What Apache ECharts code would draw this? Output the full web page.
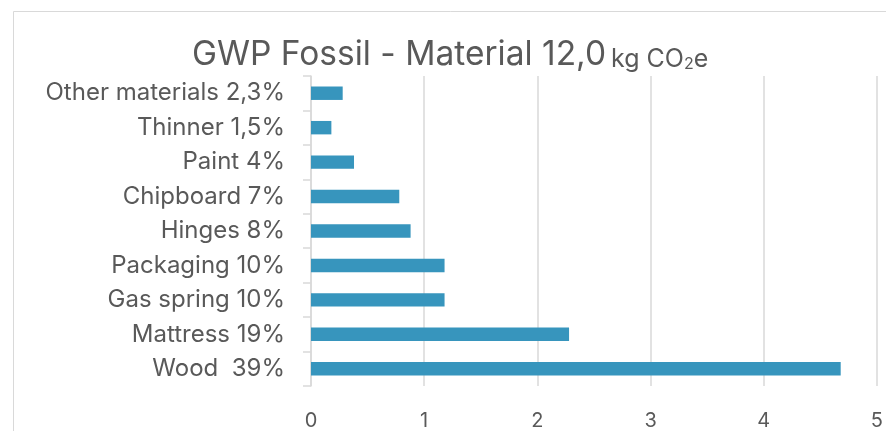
<!DOCTYPE html>
<html>
<head>
<meta charset="utf-8">
<script src="https://cdn.jsdelivr.net/npm/echarts@6/dist/echarts.min.js"></script>
<style>
html,body{margin:0;padding:0;background:#fff;}
#chart{width:886px;height:431px;}
</style>
</head>
<body>
<div id="chart"></div>
<script>
const categories = ['Other materials 2,3%', 'Thinner 1,5%', 'Paint 4%', 'Chipboard 7%', 'Hinges 8%', 'Packaging 10%', 'Gas spring 10%', 'Mattress 19%', 'Wood  39%'];
const values = [0.28, 0.18, 0.38, 0.78, 0.88, 1.18, 1.18, 2.28, 4.68];
const xTicks = { min: 0, max: 5, interval: 1 };
const titleMain = 'GWP Fossil - Material 12,0';

const FONT = 'Inter';
const chart = echarts.init(document.getElementById('chart'), null, { renderer: 'canvas' });
chart.setOption({
  backgroundColor: '#fff',
  animation: false,
  textStyle: { fontFamily: FONT },
  graphic: [{
    type: 'rect', silent: true, z: -1,
    shape: { x: 13.5, y: 11.5, width: 900, height: 460 },
    style: { fill: 'none', stroke: '#d9d9d9', lineWidth: 1 }
  }],
  title: {
    left: 187, top: 31,
    text: '{a|' + titleMain + '} {b|kg CO}{s|2}{b|e}',
    textStyle: {
      fontWeight: 'normal',
      rich: {
        a: { fontSize: 33.5, fontWeight: 'normal', color: '#595959', fontFamily: FONT, lineHeight: 36, verticalAlign: 'bottom' },
        b: { fontSize: 25, fontWeight: 'normal', color: '#595959', fontFamily: FONT, lineHeight: 27, verticalAlign: 'bottom' },
        s: { fontSize: 16, fontWeight: 'normal', color: '#595959', fontFamily: FONT, lineHeight: 16, verticalAlign: 'bottom' }
      }
    }
  },
  grid: { left: 311, right: 8, top: 76, bottom: 43, containLabel: false },
  xAxis: {
    type: 'value', min: xTicks.min, max: xTicks.max, interval: xTicks.interval,
    axisLine: { show: false }, axisTick: { show: false },
    splitLine: { show: true, lineStyle: { color: '#d9d9d9', width: 1.5 } },
    axisLabel: { fontSize: 20, color: '#595959', margin: 25, fontFamily: FONT }
  },
  yAxis: {
    type: 'category', data: categories, inverse: true,
    axisLine: { show: true, lineStyle: { color: '#d9d9d9', width: 1.5 } },
    axisTick: { show: true, length: 8, alignWithLabel: false, lineStyle: { color: '#d9d9d9', width: 1.5 } },
    axisLabel: { fontSize: 24, color: '#595959', margin: 26, fontFamily: FONT }
  },
  series: [{
    type: 'bar', data: values, barCategoryGap: '61%',
    itemStyle: { color: '#3795bd' }
  }]
});
</script>
</body>
</html>
